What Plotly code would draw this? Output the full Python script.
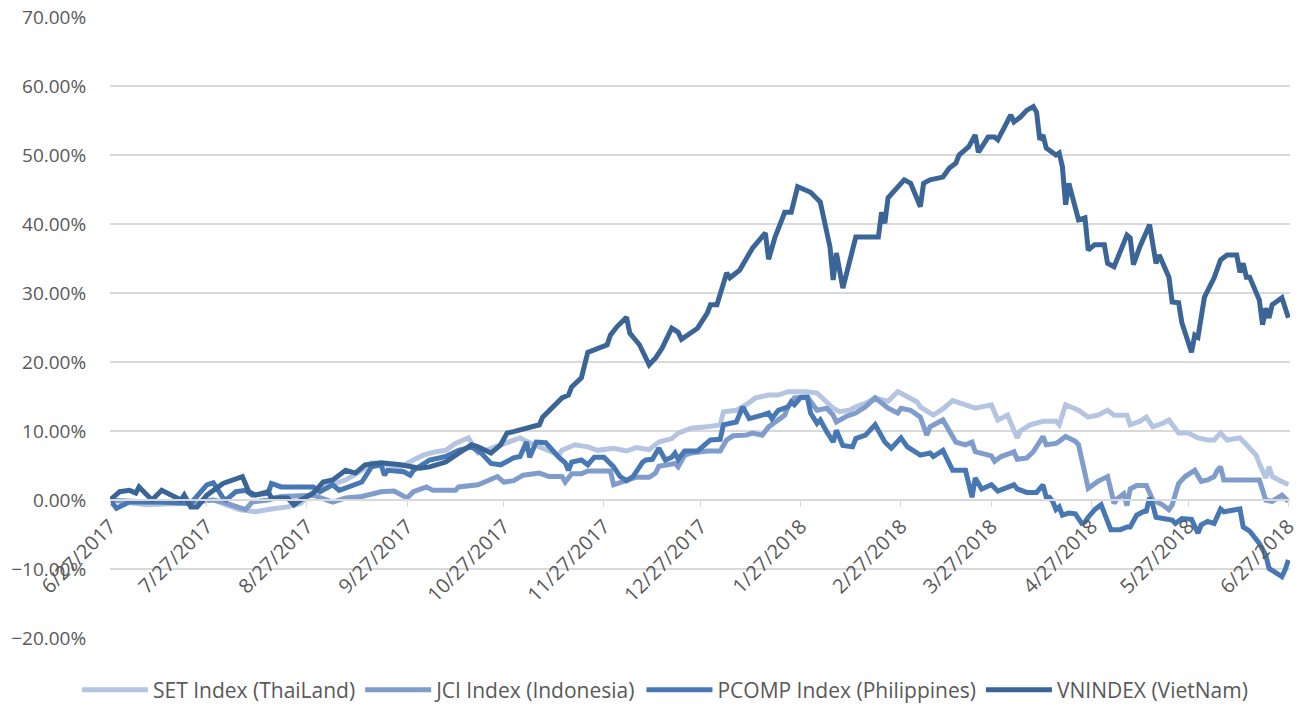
import pandas as pd
import plotly.graph_objects as go

START = pd.Timestamp('2017-06-27')

# day offsets (days after 6/27/2017) and cumulative return in %
set_days = [0, 11, 22, 32, 40, 45, 50, 55, 59, 63, 68, 73, 78, 81, 86, 90, 94, 97, 101, 104,
            107, 111, 114, 118, 123, 127, 129, 133, 136, 139, 140, 142, 144, 148, 151, 156, 160,
            163, 167, 170, 174, 176, 180, 185, 189, 190, 194, 197, 200, 204, 207, 210, 213, 216,
            219, 222, 224, 226, 229, 231, 234, 237, 241, 244, 247, 250, 251, 255, 258, 261, 265,
            268, 273, 275, 278, 281, 282, 285, 289, 293, 294, 296, 300, 303, 306, 309, 311, 315,
            316, 319, 321, 323, 326, 328, 331, 334, 337, 340, 342, 344, 346, 350, 352, 355, 356,
            358, 359, 360, 362, 365]
set_vals = [0.0, -0.7, -0.5, 0.0, -1.4, -1.7, -1.3, -1.0, -0.5, 1.2, 2.2, 2.9, 4.3, 5.4, 5.1, 4.8,
            5.8, 6.5, 7.0, 7.2, 8.2, 9.0, 6.8, 7.5, 8.2, 9.0, 8.5, 7.7, 7.2, 6.5, 7.2, 7.7, 8.0,
            7.7, 7.2, 7.5, 7.1, 7.6, 7.3, 8.4, 8.9, 9.7, 10.4, 10.6, 10.9, 12.8, 13.0, 13.8, 14.8,
            15.2, 15.2, 15.7, 15.7, 15.7, 15.5, 14.3, 13.3, 12.8, 13.0, 13.5, 14.0, 14.8, 14.3,
            15.7, 15.0, 14.2, 13.5, 12.3, 13.2, 14.4, 13.8, 13.3, 13.8, 11.6, 12.3, 9.0, 10.0,
            10.9, 11.4, 11.4, 10.9, 13.8, 13.0, 12.0, 12.3, 13.0, 12.3, 12.3, 10.9, 11.4, 12.0,
            10.6, 11.1, 11.6, 9.7, 9.7, 9.0, 8.7, 8.7, 9.7, 8.7, 9.0, 8.0, 6.5, 5.3, 3.2, 4.8,
            3.4, 2.9, 2.2]

jci_days = [0, 11, 25, 32, 35, 39, 42, 44, 49, 53, 63, 69, 73, 78, 84, 88, 92, 94, 98, 100, 104,
            107, 108, 114, 120, 122, 125, 128, 133, 136, 140, 141, 143, 146, 148, 155, 156, 160,
            163, 167, 169, 170, 172, 175, 176, 178, 180, 185, 189, 191, 193, 197, 199, 202, 204,
            207, 209, 210, 212, 216, 217, 219, 222, 224, 225, 228, 231, 234, 237, 241, 244, 245,
            248, 251, 253, 254, 258, 260, 262, 265, 267, 268, 273, 274, 276, 279, 280, 281, 284,
            286, 289, 290, 293, 294, 296, 299, 300, 303, 306, 309, 311, 312, 314, 315, 316, 318,
            321, 323, 326, 328, 329, 331, 333, 336, 338, 340, 342, 343, 344, 345, 356, 358, 360,
            363, 365]
jci_vals = [0.0, -0.3, -0.3, 0.0, -0.3, -1.0, -1.4, -0.3, 0.0, 0.5, 0.7, -0.3, 0.3, 0.5, 1.2,
            1.3, 0.3, 1.2, 1.9, 1.4, 1.4, 1.4, 1.9, 2.2, 3.4, 2.6, 2.8, 3.6, 3.9, 3.4, 3.4, 2.6,
            3.8, 3.8, 4.2, 4.2, 2.2, 2.8, 3.3, 3.3, 3.9, 4.9, 5.1, 5.3, 4.8, 6.5, 6.8, 7.1, 7.1,
            8.7, 9.3, 9.4, 9.7, 9.4, 10.6, 11.6, 12.3, 13.5, 14.8, 14.9, 14.2, 13.0, 13.3, 12.3,
            11.3, 12.1, 12.6, 13.5, 14.8, 13.3, 12.6, 13.3, 13.0, 12.0, 9.4, 10.6, 11.6, 9.9, 8.4,
            8.0, 8.4, 7.0, 6.4, 5.6, 6.3, 6.8, 7.0, 5.9, 6.1, 7.0, 9.2, 8.0, 8.2, 8.5, 9.2, 8.5,
            8.0, 1.7, 2.7, 3.4, -0.5, 0.2, 0.9, -0.8, 1.6, 2.1, 2.1, 0.0, -0.7, -1.4, -0.7, 2.4,
            3.4, 4.3, 2.7, 2.9, 3.4, 4.3, 4.8, 2.9, 2.9, 0.0, -0.2, 0.7, -0.2]

pcomp_days = [0, 2, 6, 15, 25, 30, 32, 35, 36, 39, 42, 44, 49, 50, 53, 63, 65, 69, 71, 78, 81,
              84, 85, 86, 91, 93, 94, 99, 104, 108, 112, 115, 118, 121, 125, 127, 129, 130, 132,
              135, 139, 141, 142, 143, 146, 148, 150, 153, 156, 158, 160, 162, 165, 166, 168, 170,
              172, 174, 175, 176, 178, 182, 186, 189, 190, 194, 196, 198, 202, 204, 205, 207, 210,
              211, 212, 214, 216, 217, 219, 220, 222, 224, 225, 227, 230, 231, 234, 237, 240, 242,
              245, 247, 251, 254, 255, 258, 261, 262, 265, 267, 268, 270, 273, 275, 280, 281, 284,
              287, 289, 290, 291, 292, 293, 294, 295, 297, 299, 301, 302, 303, 305, 307, 310, 313,
              315, 316, 318, 320, 321, 322, 323, 324, 329, 330, 332, 335, 337, 338, 340, 342, 343,
              344, 345, 350, 351, 353, 356, 358, 359, 363, 364, 365]
pcomp_vals = [0.0, -1.2, -0.3, -0.3, -0.5, 2.2, 2.5, 0.3, 0.0, 1.2, 1.4, 0.7, 1.0, 2.4, 1.9, 1.9,
              1.2, 2.2, 1.4, 2.6, 4.8, 5.1, 3.6, 4.3, 4.1, 3.6, 4.3, 5.8, 6.3, 7.2, 7.7, 6.8, 5.3,
              5.1, 6.1, 6.3, 8.4, 6.2, 8.4, 8.3, 6.2, 5.4, 4.3, 5.5, 5.8, 5.1, 6.2, 6.2, 4.8, 3.4,
              2.8, 3.4, 5.5, 5.8, 5.9, 7.5, 5.8, 6.2, 6.8, 5.9, 7.1, 7.1, 8.7, 8.8, 10.9, 11.3,
              13.5, 11.8, 12.3, 12.6, 11.8, 13.0, 13.5, 14.2, 13.8, 14.9, 14.9, 12.6, 11.1, 11.6,
              9.9, 8.4, 10.1, 7.9, 7.7, 8.9, 9.4, 10.9, 8.4, 7.5, 9.0, 7.7, 6.5, 6.8, 6.3, 7.2,
              4.3, 4.3, 4.3, 0.4, 3.2, 1.6, 2.2, 1.3, 2.2, 1.6, 1.1, 1.1, 2.2, 0.4, 0.4, -0.2,
              -1.4, -1.0, -2.2, -1.9, -2.0, -3.4, -3.2, -2.5, -1.4, -0.7, -4.3, -4.3, -3.9, -3.9,
              -2.2, -1.7, -1.6, 0.3, -0.7, -2.5, -2.9, -3.4, -2.7, -2.8, -4.8, -3.6, -3.1, -3.4,
              -2.2, -1.3, -1.7, -1.3, -3.9, -4.5, -6.3, -8.0, -9.9, -11.1, -10.1, -8.7]

vn_days = [0, 3, 6, 8, 9, 13, 16, 22, 23, 25, 27, 30, 35, 38, 41, 43, 45, 49, 50, 55, 57, 59, 63,
           66, 69, 73, 76, 79, 84, 90, 96, 99, 104, 108, 112, 114, 118, 121, 123, 125, 128, 133,
           134, 136, 140, 142, 143, 146, 148, 154, 155, 157, 160, 161, 164, 167, 169, 171, 174,
           176, 177, 182, 185, 186, 188, 191, 192, 195, 199, 203, 204, 206, 209, 211, 213, 217,
           220, 223, 224, 225, 227, 231, 238, 239, 240, 241, 246, 248, 251, 252, 254, 258, 260,
           262, 263, 266, 268, 269, 272, 274, 275, 279, 280, 282, 284, 286, 287, 288, 289, 290,
           293, 294, 295, 296, 297, 300, 302, 303, 305, 308, 309, 311, 315, 316, 317, 319, 322,
           324, 325, 328, 329, 331, 332, 335, 336, 337, 339, 342, 344, 346, 349, 350, 351, 352,
           353, 356, 357, 358, 359, 360, 363, 365]
vn_vals = [0.0, 1.2, 1.4, 1.0, 1.9, 0.0, 1.4, 0.0, 0.7, -1.0, -1.0, 0.7, 2.4, 2.9, 3.4, 1.2, 0.7,
           1.2, 0.3, 0.3, -0.7, 0.0, 1.0, 2.6, 2.9, 4.3, 3.9, 5.1, 5.4, 5.1, 4.6, 4.8, 5.5, 6.8,
           8.0, 7.7, 6.8, 8.0, 9.7, 9.9, 10.3, 10.9, 12.0, 13.0, 14.8, 15.2, 16.4, 17.7, 21.4,
           22.5, 23.9, 25.1, 26.5, 24.2, 22.5, 19.6, 20.6, 22.0, 24.9, 24.3, 23.3, 24.9, 27.1,
           28.3, 28.3, 32.9, 32.2, 33.3, 36.5, 38.7, 34.9, 38.1, 41.7, 41.7, 45.4, 44.6, 43.2,
           36.7, 31.9, 35.8, 30.7, 38.1, 38.1, 41.7, 40.1, 43.8, 46.4, 45.9, 42.5, 45.9, 46.4,
           46.8, 48.1, 48.8, 50.0, 51.2, 52.9, 50.4, 52.6, 52.6, 52.2, 55.8, 54.8, 55.5, 56.5,
           57.0, 56.2, 52.2, 52.9, 51.0, 50.0, 50.3, 48.3, 42.8, 45.9, 40.6, 40.9, 36.2, 37.0,
           37.0, 34.3, 33.8, 38.4, 38.0, 34.1, 36.7, 39.9, 34.3, 35.5, 32.3, 28.7, 28.6, 25.7,
           21.4, 23.9, 23.6, 29.4, 32.2, 34.8, 35.5, 35.5, 33.0, 34.3, 32.3, 32.3, 29.0, 25.4,
           27.8, 26.4, 28.3, 29.3, 26.4]

tick_dates = ['2017-06-27', '2017-07-27', '2017-08-27', '2017-09-27', '2017-10-27', '2017-11-27',
              '2017-12-27', '2018-01-27', '2018-02-27', '2018-03-27', '2018-04-27', '2018-05-27',
              '2018-06-27']

series = [
    ('SET Index (ThaiLand)', set_days, set_vals, '#B4C4E1'),
    ('JCI Index (Indonesia)', jci_days, jci_vals, '#7F9CCB'),
    ('PCOMP Index (Philippines)', pcomp_days, pcomp_vals, '#4878B3'),
    ('VNINDEX (VietNam)', vn_days, vn_vals, '#3B6596'),
]

fig = go.Figure()
for name, days, vals, color in series:
    fig.add_trace(go.Scatter(
        x=START + pd.to_timedelta(days, unit='D'),
        y=vals,
        name=name,
        mode='lines',
        line=dict(color=color, width=5),
    ))

GRID = '#D9D9D9'
TXT = '#595959'

fig.update_layout(
    width=1300,
    height=706,
    plot_bgcolor='white',
    paper_bgcolor='white',
    font=dict(family='Open Sans', color=TXT, size=20),
    margin=dict(l=110, r=10, t=17, b=68, autoexpand=False),
    showlegend=True,
    legend=dict(
        orientation='h',
        x=-0.028, xanchor='left',
        y=-0.084, yanchor='middle',
        font=dict(size=21, color=TXT),
        itemwidth=66,
    ),
    xaxis=dict(
        type='date',
        range=['2017-06-27', '2018-06-27 12:00'],
        anchor='free',
        position=2 / 9,
        automargin=False,
        tickvals=tick_dates,
        tickformat='%-m/%-d/%Y',
        tickangle=-45,
        ticks='outside',
        ticklen=6,
        tickcolor=GRID,
        showline=True,
        linecolor=GRID,
        linewidth=1.5,
        showgrid=False,
        zeroline=False,
        tickfont=dict(size=20, color=TXT),
    ),
    yaxis=dict(
        range=[-20, 70],
        dtick=10,
        tick0=0,
        automargin=False,
        tickformat='.2f',
        ticksuffix='%',
        showgrid=True,
        gridcolor=GRID,
        gridwidth=1.5,
        zeroline=False,
        showline=False,
        ticks='outside',
        ticklen=19,
        tickcolor='rgba(0,0,0,0)',
        tickfont=dict(size=19, color=TXT),
    ),
)

fig.write_html('out.html', config={'displayModeBar': False},
               post_script="document.body.style.margin = '0';")
